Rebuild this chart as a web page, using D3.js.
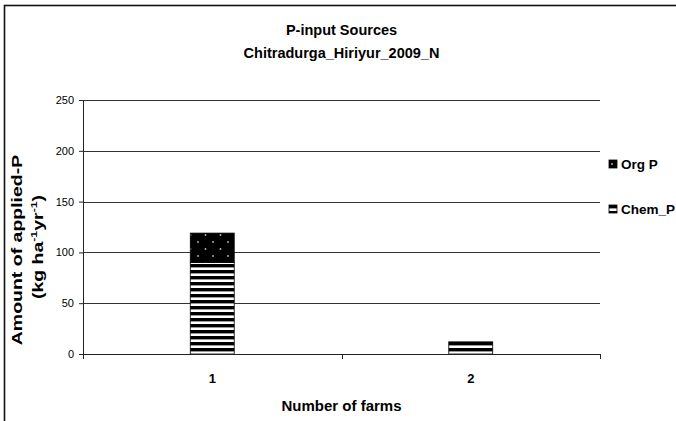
<!DOCTYPE html>
<html>
<head>
<meta charset="utf-8">
<script src="https://cdn.jsdelivr.net/npm/d3@7"></script>
<style>
  html, body { margin: 0; padding: 0; background: #fff; }
  svg { display: block; font-family: Arial, "Liberation Sans", sans-serif; }
</style>
</head>
<body>
<svg id="chart" width="676" height="421"></svg>
<script>
// Farms on the x axis and the two stacked P sources (kg ha-1 yr-1)
const farms = ["1", "2"];
const chemP = [90, 12];
const orgP = [29, 0];
const yTicks = [0, 50, 100, 150, 200, 250];
const seriesNames = ["Org P", "Chem_P"];

const svg = d3.select("#chart");
const W = 676, H = 421;
const plot = { left: 83, right: 600, top: 100, bottom: 354 };

// Fill patterns: horizontal stripes for chemical P, dotted black for organic P
const defs = svg.append("defs");
const stripes = defs.append("pattern")
  .attr("id", "stripes").attr("patternUnits", "userSpaceOnUse")
  .attr("width", 8).attr("height", 6);
stripes.append("rect").attr("width", 8).attr("height", 6).attr("fill", "#fff");
stripes.append("rect").attr("width", 8).attr("height", 3.4).attr("fill", "#000");

const dots = defs.append("pattern")
  .attr("id", "dots").attr("patternUnits", "userSpaceOnUse")
  .attr("width", 15).attr("height", 14);
dots.append("rect").attr("width", 15).attr("height", 14).attr("fill", "#000");
dots.append("circle").attr("cx", 3).attr("cy", 4).attr("r", 0.9).attr("fill", "#bbb");
dots.append("circle").attr("cx", 10.5).attr("cy", 11).attr("r", 0.9).attr("fill", "#bbb");

// Outer chart frame
svg.append("rect")
  .attr("x", 4.5).attr("y", 5.5).attr("width", W + 10).attr("height", H + 10)
  .attr("fill", "none").attr("stroke", "#111").attr("stroke-width", 1.6);

const x = d3.scaleBand().domain(farms).range([plot.left, plot.right]).padding(0);
const y = d3.scaleLinear().domain([0, 250]).range([plot.bottom, plot.top]);

// Horizontal gridlines
svg.append("g").selectAll("line").data(yTicks.filter(d => d > 0)).join("line")
  .attr("x1", plot.left).attr("x2", plot.right)
  .attr("y1", d => Math.round(y(d)) + 0.5).attr("y2", d => Math.round(y(d)) + 0.5)
  .attr("stroke", "#333").attr("stroke-width", 1);

// Stacked bars
const stackData = farms.map((f, i) => ({ farm: f, "Chem_P": chemP[i], "Org P": orgP[i] }));
const stack = d3.stack().keys(["Chem_P", "Org P"])(stackData);
const fills = { "Chem_P": "url(#stripes)", "Org P": "url(#dots)" };
const barW = x.bandwidth() * 0.17;

svg.append("g").selectAll("g").data(stack).join("g")
  .attr("fill", s => fills[s.key])
  .selectAll("rect").data(s => s.filter(d => d[1] - d[0] > 0)).join("rect")
  .attr("x", d => x(d.data.farm) + x.bandwidth() / 2 - barW / 2)
  .attr("y", d => y(d[1]))
  .attr("width", barW)
  .attr("height", d => y(d[0]) - y(d[1]))
  .attr("stroke", "#000").attr("stroke-width", 0.8);

// Y axis
const yAxis = d3.axisLeft(y).tickValues(yTicks).tickSize(4).tickPadding(5);
const gy = svg.append("g").attr("transform", `translate(${plot.left},0)`).call(yAxis);
gy.select(".domain").attr("stroke", "#222");
gy.selectAll(".tick line").attr("stroke", "#222");
gy.selectAll(".tick text").attr("font-size", 11).attr("fill", "#000")
  .attr("font-family", "Arial, 'Liberation Sans', sans-serif");

// X axis with tick marks on category boundaries
const xAxis = d3.axisBottom(x).tickSize(0).tickPadding(20);
const gx = svg.append("g").attr("transform", `translate(0,${plot.bottom})`).call(xAxis);
gx.select(".domain").attr("stroke", "#222");
gx.selectAll(".tick text").attr("font-size", 13).attr("font-weight", "bold").attr("fill", "#000")
  .attr("font-family", "Arial, 'Liberation Sans', sans-serif");
const bounds = farms.map(f => x(f)).concat([x(farms[farms.length - 1]) + x.bandwidth()]);
gx.selectAll(".bound").data(bounds).join("line").attr("class", "bound")
  .attr("x1", d => Math.round(d) + 0.5).attr("x2", d => Math.round(d) + 0.5)
  .attr("y1", 0).attr("y2", 5).attr("stroke", "#222");

// Titles
const cx = (plot.left + plot.right) / 2;
svg.append("text").attr("x", cx).attr("y", 35).attr("text-anchor", "middle")
  .attr("font-size", 14.5).attr("font-weight", "bold").text("P-input Sources");
svg.append("text").attr("x", cx).attr("y", 58).attr("text-anchor", "middle")
  .attr("font-size", 14.5).attr("font-weight", "bold").text("Chitradurga_Hiriyur_2009_N");
svg.append("text").attr("x", cx).attr("y", 411).attr("text-anchor", "middle")
  .attr("font-size", 15).attr("font-weight", "bold").text("Number of farms");

// Y axis title, two lines with superscripts, drawn elongated along the axis
const cy = 250;
const yt = svg.append("text").attr("transform", `translate(22,${cy}) rotate(-90) scale(1.3,1)`)
  .attr("text-anchor", "middle").attr("font-size", 15).attr("font-weight", "bold");
yt.append("tspan").attr("x", 0).attr("dy", 0).text("Amount of applied-P");
const l2 = svg.append("text").attr("transform", `translate(43,${cy - 3}) rotate(-90) scale(1.3,1)`)
  .attr("text-anchor", "middle").attr("font-size", 15).attr("font-weight", "bold");
l2.append("tspan").text("(kg ha");
l2.append("tspan").attr("dy", -6).attr("font-size", 9.5).text("-1");
l2.append("tspan").attr("dy", 6).text("yr");
l2.append("tspan").attr("dy", -6).attr("font-size", 9.5).text("-1");
l2.append("tspan").attr("dy", 6).text(")");

// Legend
const legend = svg.append("g").selectAll("g").data(seriesNames).join("g")
  .attr("transform", (d, i) => `translate(609,${160 + i * 45})`);
legend.append("rect").attr("width", 8).attr("height", 8)
  .attr("fill", d => d === "Org P" ? "url(#dots)" : "url(#stripes)")
  .attr("stroke", "#000").attr("stroke-width", 0.8);
legend.append("text").attr("x", 12).attr("y", 8.5).attr("font-size", 13.5)
  .attr("font-weight", "bold").text(d => d);
</script>
</body>
</html>
